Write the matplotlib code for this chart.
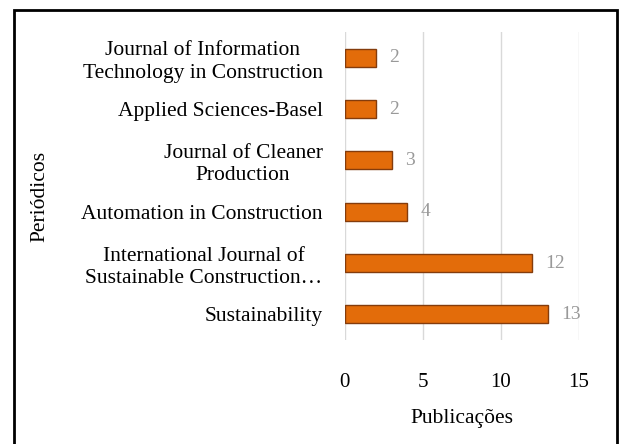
import matplotlib.pyplot as plt
from matplotlib.patches import Rectangle

plt.rcParams['font.family'] = ['Liberation Serif', 'DejaVu Serif']

# Dados (de baixo para cima)
periodicos = ['Sustainability',
              'International Journal of\nSustainable Construction…',
              'Automation in Construction',
              'Journal of Cleaner\nProduction',
              'Applied Sciences-Basel',
              'Journal of Information\nTechnology in Construction']
publicacoes = [13, 12, 4, 3, 2, 2]
x_ticks = [0, 5, 10, 15]

fig = plt.figure(figsize=(6.19, 4.44), dpi=100)
ax = fig.add_axes([0.557, 0.234, 0.378, 0.694])

pos = range(len(periodicos))
ax.barh(pos, publicacoes, height=0.35, color='#e36c0a', edgecolor='#843c0c', linewidth=1, zorder=3)
for p, v in zip(pos, publicacoes):
    ax.text(v + 0.85, p, str(v), va='center', ha='left', fontsize=14, color='#999999')

ax.set_xlim(0, 15)
ax.set_ylim(-0.5, len(periodicos) - 0.5)
ax.set_xticks(x_ticks)
ax.set_yticks(list(pos))
ax.set_yticklabels(periodicos, multialignment='center', linespacing=1.25)
ax.tick_params(axis='y', length=0, pad=16, labelsize=15.5)
ax.tick_params(axis='x', length=0, pad=24, labelsize=15)
ax.grid(axis='x', color='#d9d9d9', linewidth=1, zorder=0)
for s in ax.spines.values():
    s.set_visible(False)

ax.set_xlabel('Publicações', fontsize=15.5, labelpad=12)
fig.text(40 / 619, 1 - 196 / 444, 'Periódicos', rotation=90, fontsize=15.5, ha='center', va='center')

# moldura
fig.patches.append(Rectangle((14 / 619, -0.05), 603 / 619, 1.05 - 10 / 444,
                             transform=fig.transFigure, fill=False, edgecolor='black', linewidth=2))

plt.savefig('out.png', dpi=100)
